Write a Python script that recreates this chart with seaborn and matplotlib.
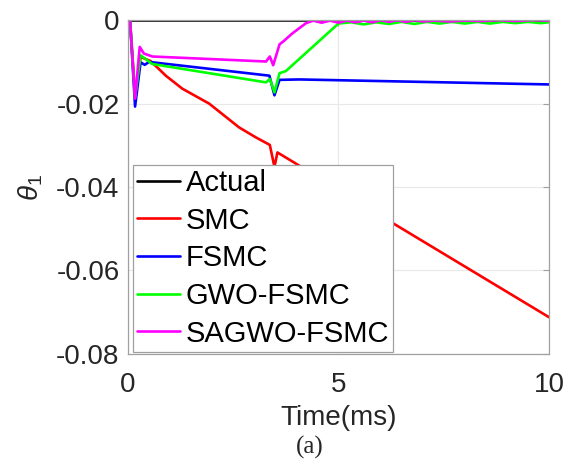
import numpy as np
import pandas as pd
import matplotlib
matplotlib.use("Agg")
import matplotlib.pyplot as plt
import seaborn as sns

# values (theta_1 vs time in ms)
t_actual = [0, 10]
y_actual = [0, 0]

t_smc = [0, 0.05, 0.17, 0.3, 0.54, 0.9, 1.29, 1.93, 2.64, 3.04, 3.37, 3.48, 3.55, 4.14, 6.25, 10]
y_smc = [0, 0, -0.0180, -0.0088, -0.0098, -0.0133, -0.0164, -0.0200, -0.0257, -0.0281,
         -0.0299, -0.0352, -0.0317, -0.0353, -0.0484, -0.0712]

t_fsmc = [0, 0.05, 0.17, 0.3, 0.4, 0.5, 3.36, 3.48, 3.6, 4.07, 10]
y_fsmc = [0, 0, -0.0207, -0.0101, -0.0107, -0.0100, -0.0133, -0.0180, -0.0143, -0.0142, -0.0154]

t_gwo = [0, 0.05, 0.17, 0.3, 0.58, 3.28, 3.37, 3.48, 3.6, 3.75, 5.0,
         5.3, 5.6, 5.9, 6.2, 6.5, 6.8, 7.1, 7.4, 7.7, 8.0, 8.3, 8.6, 8.9, 9.2, 9.5, 9.8, 10]
y_gwo = [0, 0, -0.0185, -0.0084, -0.0105, -0.0149, -0.0141, -0.0173, -0.0127, -0.0122, -0.0008,
         -0.0005, -0.0010, -0.0005, -0.0009, -0.0004, -0.0009, -0.0004, -0.0008, -0.0004, -0.0008,
         -0.0004, -0.0008, -0.0004, -0.0007, -0.0004, -0.0007, -0.0005]

t_sagwo = [0, 0.05, 0.17, 0.28, 0.38, 0.58, 3.28, 3.37, 3.45, 3.6, 3.7, 3.9, 4.23,
           4.4, 4.6, 4.8, 5.0, 5.2, 5.4, 5.6, 5.8, 6.0, 6.2, 6.4, 6.6, 6.8, 7.0, 7.3,
           7.6, 8.0, 8.4, 8.8, 9.2, 9.6, 10]
y_sagwo = [0, 0, -0.0188, -0.0064, -0.0080, -0.0087, -0.0099, -0.0087, -0.0108, -0.0058,
           -0.0050, -0.0032, -0.0007,
           -0.0001, -0.0006, -0.0001, -0.0006, -0.0001, -0.0005, -0.0001, -0.0005, 0.0000,
           -0.0004, 0.0000, -0.0004, 0.0000, -0.0003, -0.0001, -0.0003, -0.0001, -0.0002,
           0.0000, -0.0002, 0.0000, -0.0001]

labels = ["Actual", "SMC", "FSMC", "GWO-FSMC", "SAGWO-FSMC"]
colors = ["#000000", "#ff0000", "#0000ff", "#00ff00", "#ff00ff"]

series = [(t_actual, y_actual), (t_smc, y_smc), (t_fsmc, y_fsmc), (t_gwo, y_gwo), (t_sagwo, y_sagwo)]
frames = []
for lab, (tt, yy) in zip(labels, series):
    frames.append(pd.DataFrame({"time": tt, "theta": yy, "method": lab}))
df = pd.concat(frames, ignore_index=True)

sns.set_theme(style="white")
plt.rcParams["font.family"] = ["Liberation Sans", "DejaVu Sans"]
plt.rcParams["axes.unicode_minus"] = False
plt.rcParams["mathtext.fontset"] = "custom"
plt.rcParams["mathtext.it"] = "Liberation Sans:italic"
plt.rcParams["mathtext.rm"] = "Liberation Sans"

fig = plt.figure(figsize=(5.66, 4.70), dpi=100)
ax = fig.add_axes([0.226, 0.247, 0.744, 0.710])

for lab, col in zip(labels, colors):
    sub = df[df["method"] == lab]
    sns.lineplot(data=sub, x="time", y="theta", color=col, linewidth=1.9,
                 ax=ax, label=lab, estimator=None, sort=False)

ax.set_xlim(0, 10)
ax.set_ylim(-0.08, 0)
ax.set_xticks([0, 5, 10])
ax.set_yticks([0, -0.02, -0.04, -0.06, -0.08])
ax.set_yticklabels(["0", "-0.02", "-0.04", "-0.06", "-0.08"])
ax.grid(True, color="#e8e8e8", linewidth=0.8)
ax.set_axisbelow(True)
for sp in ax.spines.values():
    sp.set_color("#a0a0a0")
    sp.set_linewidth(0.9)
ax.tick_params(direction="in", length=4, width=0.8, color="#a0a0a0",
               top=True, right=True, labelsize=20, labelcolor="#262626", pad=6)
ax.tick_params(axis="x", pad=13)

ax.set_xlabel("Time(ms)", fontsize=20, color="#262626", labelpad=5)
ax.set_ylabel(r"$\theta_1$", fontsize=20, color="#262626", labelpad=8)

leg = ax.legend(loc="lower left", bbox_to_anchor=(0.012, 0.006), fontsize=21,
                frameon=True, fancybox=False, framealpha=1, edgecolor="#a0a0a0",
                handlelength=1.45, handletextpad=0.2, labelspacing=0.33,
                borderpad=0.15, borderaxespad=0)
leg.get_frame().set_linewidth(0.9)
for txt in leg.get_texts():
    txt.set_color("#000000")

fig.text(0.548, 0.048, "(a)", fontsize=18, family="Liberation Serif", ha="center", va="center")

fig.savefig("out.png", dpi=100)
